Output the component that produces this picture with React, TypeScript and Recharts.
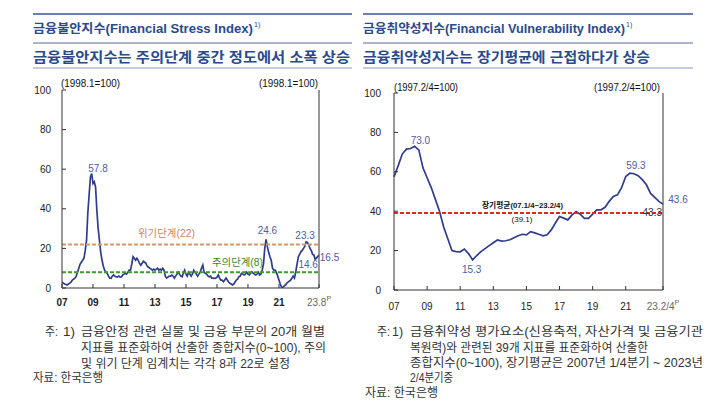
import React from 'react';
import { LineChart, Line, XAxis, YAxis, ReferenceLine, ReferenceDot } from 'recharts';

const FONT = "'Liberation Sans', 'Noto Sans CJK KR', sans-serif";

// ---- Financial Stress Index (monthly, 2007.01 ~ 2023.08) ----
const fsiValues: number[] = [
  3, 2.5, 2, 1.8, 1.5, 2, 2.5, 3, 4, 4.5, 5, 6, // 2007
  8, 10, 12, 13, 14, 15, 19, 24, 38, 47, 56, 57.8, // 2008
  52.8, 53.7, 51, 39, 30, 24, 18, 14, 11, 9, 8, 7.4, // 2009
  6, 5, 4.9, 6, 6.6, 6, 5.6, 5.6, 6, 5.5, 5.6, 6.5, // 2010
  7, 7.4, 7, 8, 9, 9, 12, 15.8, 15, 14, 15, 14, // 2011
  12.4, 11.5, 12.5, 13.5, 13, 12.5, 11, 10.5, 10, 9.5, 9, 9.5, // 2012
  9, 9.5, 10, 9, 9.5, 9, 10, 9, 6, 5, 5.5, 6, // 2013
  6, 6.5, 6, 5, 6, 7, 8, 7, 6, 5.7, 7.6, 9, // 2014
  7, 6, 8, 7, 6, 7, 9, 8, 7, 6, 7, 8, // 2015
  10, 11.6, 8, 7.4, 7, 6, 5.7, 6, 5, 5, 4.9, 5, // 2016
  5.5, 6.6, 5, 4, 4, 3.2, 4, 5, 4, 3, 2.4, 2, // 2017
  1.5, 2, 3, 4, 4.5, 5.7, 6, 7.4, 7, 6.6, 7, 8, // 2018
  7, 6.6, 7.5, 8.2, 7.5, 7, 6.6, 7, 8, 6.6, 7, 9, // 2019
  12, 20, 24.6, 21, 18, 15.8, 14, 10, 9, 9, 8, 6, // 2020
  4, 2, 0.5, 0.3, 1, 1.5, 2.4, 3, 3.5, 4, 4.9, 6, // 2021
  5, 8.2, 12, 15.8, 17, 18.3, 19, 20, 21, 23.3, 23, 22, // 2022
  20, 19, 17, 16.7, 14.6, 15, 16, 16.5, // 2023
];
const fsiTickIdx = [0, 24, 48, 72, 96, 120, 144, 168, 199];
const fsiTickLabels = ['07', '09', '11', '13', '15', '17', '19', '21', '23.8'];
const fsiCrisis = 22;
const fsiCaution = 8;

// ---- Financial Vulnerability Index (quarterly, 2007Q1 ~ 2023Q2) ----
const fviValues: number[] = [
  57.5, 63, 69, 71.5, // 2007
  71.8, 73.0, 71, 62, // 2008
  57, 52, 46, 40, // 2009
  32, 26, 20, 19.5, // 2010
  19.4, 20.8, 18.5, 15.3, // 2011
  17.5, 19.5, 21, 22.5, // 2012
  24, 25.4, 24.8, 25, // 2013
  25.5, 26.5, 27.5, 28.3, // 2014
  28, 29.6, 29, 28.3, // 2015
  27.5, 28, 30.5, 34, // 2016
  37.3, 36.5, 35.6, 38, // 2017
  39.8, 38.5, 36.4, 36.4, // 2018
  38.5, 40.7, 40.7, 42, // 2019
  45, 47.5, 48.3, 52, // 2020
  57.6, 59.3, 59, 58, // 2021
  56, 53.4, 49, 47, // 2022
  45, 43.6, // 2023
];
const fviTickIdx = [0, 8, 16, 24, 32, 40, 48, 56, 65];
const fviTickLabels = ['07', '09', '11', '13', '15', '17', '19', '21', '23.2/4'];
const fviAverage = 39.1;

const yTicks = [0, 20, 40, 60, 80, 100];

const fsiData = fsiValues.map((v, i) => ({ i, v }));
const fviData = fviValues.map((v, i) => ({ i, v }));

const AXIS = '#333';
const LINE = '#2f3d8c';
const LBL = '#4d5cab';

function YTick(props: any) {
  const { x, y, payload, gap, side } = props;
  const ax = side === 'left' ? x + gap : x - gap;
  const inward = side === 'left' ? 4 : -4;
  return (
    <g>
      <line x1={ax} x2={ax + inward} y1={y} y2={y} stroke={AXIS} strokeWidth={1} />
      <text x={x} y={y} textAnchor={side === 'left' ? 'end' : 'start'} dominantBaseline="central"
        fontSize={10} fill="#222" fontFamily={FONT}>{payload.value}</text>
    </g>
  );
}

function XTick(props: any) {
  const { x, y, payload, gap, idx, labels, bold } = props;
  const ay = y - gap;
  const k = idx.indexOf(payload.value);
  const last = k === idx.length - 1;
  const label = labels[k];
  return (
    <g>
      <line x1={x} x2={x} y1={ay} y2={ay - 4} stroke={AXIS} strokeWidth={1} />
      <text x={x} y={y} textAnchor="middle" dominantBaseline="central" fontSize={10}
        fontWeight={bold && !last ? 700 : 400} fill={last ? '#666' : '#222'} fontFamily={FONT}>
        {label}
        {last ? <tspan dy={-4} fontSize={7}>P</tspan> : null}
      </text>
    </g>
  );
}

function Lbl(props: any) {
  const { viewBox, text, dx = 0, dy = 0, ax = 0.5, color = '#000', size = 10, weight = 400, anchor = 'middle', len } = props;
  if (!viewBox) return null;
  const x = viewBox.x + (viewBox.width || 0) * ax + dx;
  const y = viewBox.y + (viewBox.height || 0) / 2 + dy;
  return (
    <text x={x} y={y} textAnchor={anchor} dominantBaseline="central" fill={color} fontSize={size}
      fontWeight={weight} fontFamily={FONT} textLength={len}
      lengthAdjust={len ? 'spacingAndGlyphs' : undefined}>{text}</text>
  );
}

function T(props: any) {
  const { x, y, len, size = 12, anchor = 'start', color = '#222', weight = 400, children } = props;
  return (
    <text x={x} y={y} textAnchor={anchor} dominantBaseline="central" fontSize={size} fill={color}
      fontWeight={weight} fontFamily={FONT} textLength={len}
      lengthAdjust={len ? 'spacingAndGlyphs' : undefined}>{children}</text>
  );
}

const TITLE = '#2b4a8c';

export default function App() {
  return (
    <div style={{ position: 'absolute', left: 0, top: 0, width: 710, height: 401, background: '#fff', overflow: 'hidden' }}>
      {/* Left: FSI */}
      <div style={{ position: 'absolute', left: 0, top: 0 }}>
        <LineChart width={355} height={320} data={fsiData} margin={{ top: 90, right: 0, bottom: 0, left: 0 }}>
          <XAxis dataKey="i" type="number" domain={[0, 199]} ticks={fsiTickIdx} interval={0}
            height={32} tickSize={0} tickMargin={14} tickLine={false}
            axisLine={{ stroke: AXIS }}
            tick={<XTick gap={14} idx={fsiTickIdx} labels={fsiTickLabels} bold />} />
          <YAxis yAxisId="l" orientation="left" type="number" domain={[0, 100]} ticks={yTicks} interval={0}
            width={62} tickSize={0} tickMargin={11} tickLine={false} axisLine={{ stroke: AXIS }}
            tick={<YTick gap={11} side="left" />} />
          <YAxis yAxisId="r" orientation="right" type="number" domain={[0, 100]} ticks={yTicks} interval={0}
            width={36} tickSize={0} tickMargin={9} tickLine={false} axisLine={{ stroke: AXIS }}
            tick={<YTick gap={9} side="right" />} />
          <Line yAxisId="l" type="linear" dataKey="v" stroke={LINE} strokeWidth={1.7} dot={false}
            isAnimationActive={false} />
          <ReferenceLine yAxisId="l" y={fsiCrisis} stroke="#d8976b" strokeWidth={2} strokeDasharray="4 2"
            label={<Lbl text="위기단계(22)" ax={0} anchor="start" dx={76} dy={-11.4} len={57} color="#c7875c" />} />
          <ReferenceLine yAxisId="l" y={fsiCaution} stroke="#3f9a30" strokeWidth={2} strokeDasharray="4 2"
            label={<Lbl text="주의단계(8)" ax={0} anchor="start" dx={150} dy={-10} len={51} color="#3a8a28" />} />
          <ReferenceDot yAxisId="l" x={23} y={fsiValues[23]} r={1} fill="none" stroke="none"
            label={<Lbl text="57.8" dx={6.3} dy={-4.6} color={LBL} />} />
          <ReferenceDot yAxisId="l" x={158} y={fsiValues[158]} r={1} fill="none" stroke="none"
            label={<Lbl text="24.6" dx={1.4} dy={-9} color={LBL} />} />
          <ReferenceDot yAxisId="l" x={189} y={fsiValues[189]} r={1} fill="none" stroke="none"
            label={<Lbl text="23.3" dx={-1} dy={-6} color={LBL} />} />
          <ReferenceDot yAxisId="l" x={196} y={fsiValues[196]} r={1} fill="none" stroke="none"
            label={<Lbl text="14.6" dx={-7} dy={5} color={LBL} />} />
          <ReferenceDot yAxisId="l" x={199} y={fsiValues[199]} r={1} fill="none" stroke="none"
            label={<Lbl text="16.5" dx={10.5} dy={2.4} color={LBL} />} />
        </LineChart>
      </div>

      {/* Right: FVI */}
      <div style={{ position: 'absolute', left: 355, top: 0 }}>
        <LineChart width={355} height={320} data={fviData} margin={{ top: 93, right: 0, bottom: 0, left: 0 }}>
          <XAxis dataKey="i" type="number" domain={[0, 65]} ticks={fviTickIdx} interval={0}
            height={30} tickSize={0} tickMargin={16} tickLine={false}
            axisLine={{ stroke: AXIS }}
            tick={<XTick gap={16} idx={fviTickIdx} labels={fviTickLabels} bold={false} />} />
          <YAxis yAxisId="l" orientation="left" type="number" domain={[0, 100]} ticks={yTicks} interval={0}
            width={39} tickSize={0} tickMargin={13} tickLine={false} axisLine={{ stroke: AXIS }}
            tick={<YTick gap={13} side="left" />} />
          <YAxis yAxisId="r" orientation="right" type="number" domain={[0, 100]} ticks={yTicks} interval={0}
            width={47} tickSize={0} tickMargin={10} tickLine={false} axisLine={{ stroke: AXIS }}
            tick={<YTick gap={10} side="right" />} />
          <Line yAxisId="l" type="linear" dataKey="v" stroke={LINE} strokeWidth={1.7} dot={false}
            isAnimationActive={false} />
          <ReferenceLine yAxisId="l" y={fviAverage} stroke="#e5261f" strokeWidth={2} strokeDasharray="4 2"
            label={<Lbl text="장기평균(07.1/4~23.2/4)" ax={0} anchor="start" dx={88} dy={-7} len={81} size={8} weight={700} color="#111" />} />
          <ReferenceLine yAxisId="l" y={fviAverage} stroke="none"
            label={<Lbl text="(39.1)" ax={0} anchor="middle" dx={128} dy={7} size={8} color="#111" />} />
          <ReferenceLine yAxisId="l" y={fviAverage} stroke="none"
            label={<Lbl text="43.3" ax={1} anchor="middle" dx={-10.7} dy={0} size={10} color="#333" />} />
          <ReferenceDot yAxisId="l" x={5} y={fviValues[5]} r={1} fill="none" stroke="none"
            label={<Lbl text="73.0" dx={5.7} dy={-5.5} color={LBL} />} />
          <ReferenceDot yAxisId="l" x={19} y={fviValues[19]} r={1} fill="none" stroke="none"
            label={<Lbl text="15.3" dx={-1} dy={10} color={LBL} />} />
          <ReferenceDot yAxisId="l" x={57} y={fviValues[57]} r={1} fill="none" stroke="none"
            label={<Lbl text="59.3" dx={6} dy={-8} color={LBL} />} />
          <ReferenceDot yAxisId="l" x={65} y={fviValues[65]} r={1} fill="none" stroke="none"
            label={<Lbl text="43.6" dx={15} dy={-5} color={LBL} />} />
        </LineChart>
      </div>

      {/* Overlay text */}
      <svg width={710} height={401} style={{ position: 'absolute', left: 0, top: 0, pointerEvents: 'none' }}>
        {/* left header */}
        <line x1={33} x2={352} y1={14} y2={14} stroke="#3d5290" strokeWidth={1.5} />
        <T x={33} y={29} len={220} size={12.5} weight={700} color={TITLE}>금융불안지수(Financial Stress Index)</T>
        <T x={254} y={24} size={7} color={TITLE}>1)</T>
        <line x1={33} x2={352} y1={43} y2={43} stroke="#5a6a9a" strokeWidth={1} />
        <T x={33} y={57} len={317} size={14} weight={700} color={TITLE}>금융불안지수는 주의단계 중간 정도에서 소폭 상승</T>
        <line x1={33} x2={352} y1={68} y2={68} stroke="#8a98c0" strokeWidth={1} />

        {/* right header */}
        <line x1={363} x2={693} y1={14} y2={14} stroke="#3d5290" strokeWidth={1.5} />
        <T x={363} y={29} len={262} size={12.5} weight={700} color={TITLE}>금융취약성지수(Financial Vulnerability Index)</T>
        <T x={626} y={24} size={7} color={TITLE}>1)</T>
        <line x1={363} x2={693} y1={43} y2={43} stroke="#5a6a9a" strokeWidth={1} />
        <T x={363} y={57} len={287} size={14} weight={700} color={TITLE}>금융취약성지수는 장기평균에 근접하다가 상승</T>
        <line x1={363} x2={693} y1={68} y2={68} stroke="#8a98c0" strokeWidth={1} />

        {/* unit labels */}
        <T x={61} y={83} size={10} len={59} color="#111">(1998.1=100)</T>
        <T x={318} y={83} size={10} len={59} anchor="end" color="#111">(1998.1=100)</T>
        <T x={394} y={87} size={10} len={64} color="#111">(1997.2/4=100)</T>
        <T x={660} y={87} size={10} len={66} anchor="end" color="#111">(1997.2/4=100)</T>

        {/* left notes */}
        <T x={45} y={332} len={13} color="#333">주:</T>
        <T x={63} y={332} len={12} color="#333">1)</T>
        <T x={81} y={332} len={244} color="#333">금융안정 관련 실물 및 금융 부문의 20개 월별</T>
        <T x={81} y={348} len={245} color="#333">지표를 표준화하여 산출한 종합지수(0~100), 주의</T>
        <T x={81} y={364} len={209} color="#333">및 위기 단계 임계치는 각각 8과 22로 설정</T>
        <T x={33} y={378} len={70} color="#333">자료: 한국은행</T>

        {/* right notes */}
        <T x={377} y={332} len={13} color="#333">주:</T>
        <T x={392} y={332} len={11} color="#333">1)</T>
        <T x={410} y={332} len={293} color="#333">금융취약성 평가요소(신용축적, 자산가격 및 금융기관</T>
        <T x={410} y={348} len={238} color="#333">복원력)와 관련된 39개 지표를 표준화하여 산출한</T>
        <T x={410} y={363} len={293} color="#333">종합지수(0~100), 장기평균은 2007년 1/4분기 ~ 2023년</T>
        <T x={410} y={378} len={43} color="#333">2/4분기중</T>
        <T x={365} y={393} len={73} color="#333">자료: 한국은행</T>
      </svg>
    </div>
  );
}
